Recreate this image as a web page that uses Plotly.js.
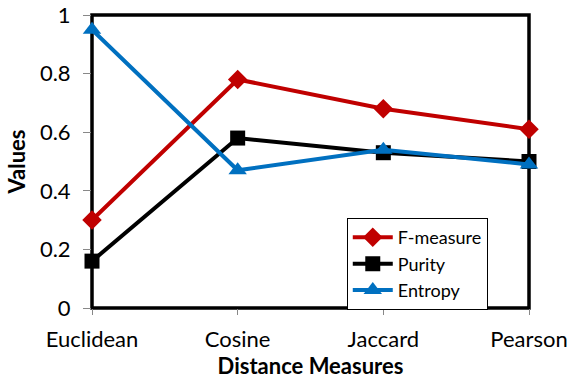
<!DOCTYPE html>
<html><head><meta charset="utf-8">
<script src="https://cdn.plot.ly/plotly-3.0.1.min.js"></script>
<style>body{margin:0;background:#fff}#c{width:575px;height:386px}</style>
</head><body><div id="c"></div>
<script>
const categories = ["Euclidean", "Cosine", "Jaccard", "Pearson"];
const fMeasure = [0.30, 0.78, 0.68, 0.61];
const purity = [0.16, 0.58, 0.53, 0.50];
const entropy = [0.95, 0.47, 0.54, 0.49];
const yTicks = [0, 0.2, 0.4, 0.6, 0.8, 1];
const yTickText = ["0", "0.2", "0.4", "0.6", "0.8", "1"];
const FONT = "Lato, 'Open Sans', sans-serif";
const traces = [
  {x: categories, y: fMeasure, name: "F-measure", mode: "lines+markers", cliponaxis: false,
   line: {color: "#C00000", width: 4}, marker: {symbol: "diamond", size: 15, color: "#C00000"}},
  {x: categories, y: purity, name: "Purity", mode: "lines+markers", cliponaxis: false,
   line: {color: "#000000", width: 4}, marker: {symbol: "square", size: 15, color: "#000000"}},
  {x: categories, y: entropy, name: "Entropy", mode: "lines+markers", cliponaxis: false,
   line: {color: "#0070C0", width: 4}, marker: {symbol: "triangle-up", size: 16, color: "#0070C0"}}
];
const layout = {
  width: 575, height: 386,
  margin: {l: 92, r: 46, t: 15, b: 78},
  paper_bgcolor: "#fff", plot_bgcolor: "#fff",
  font: {family: FONT, size: 22, color: "#000"},
  xaxis: {type: "category", range: [0, 3], showgrid: false, zeroline: false,
    ticks: "outside", ticklen: 6, tickcolor: "#888", tickwidth: 1, ticklabelstandoff: 6,
    tickfont: {family: FONT, size: 22}, showline: false,
    title: {text: "<b>Distance Measures</b>", font: {family: FONT, size: 22}, standoff: 4}},
  yaxis: {range: [0, 1], tickvals: yTicks, ticktext: yTickText, showgrid: false, zeroline: false,
    ticks: "outside", ticklen: 8, tickcolor: "#888", tickwidth: 1, ticklabelstandoff: 8,
    tickfont: {family: FONT, size: 22}, showline: false,
    title: {text: "<b>Values</b>", font: {family: FONT, size: 22}, standoff: 8}},
  showlegend: true,
  legend: {x: 0.583, y: 0.307, xanchor: "left", yanchor: "top", bgcolor: "#fff",
    bordercolor: "#000", borderwidth: 1, font: {family: FONT, size: 18},
    tracegroupgap: 0, itemwidth: 40},
  shapes: [{type: "rect", xref: "paper", yref: "paper", x0: 0, x1: 1, y0: 0, y1: 1,
    line: {color: "#000", width: 3.5}, layer: "below"}]
};
Plotly.newPlot("c", traces, layout, {displayModeBar: false, staticPlot: true});
</script></body></html>
